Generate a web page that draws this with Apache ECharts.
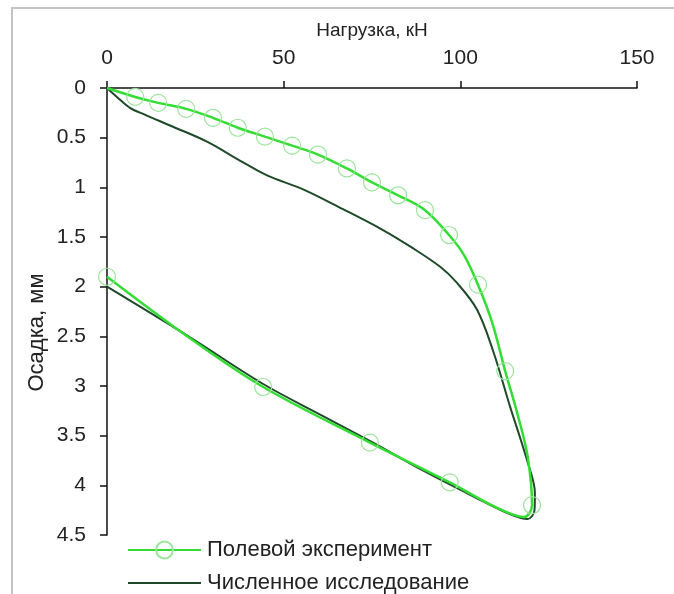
<!DOCTYPE html>
<html>
<head>
<meta charset="utf-8">
<script src="https://cdn.jsdelivr.net/npm/echarts@6/dist/echarts.min.js"></script>
<style>
  html, body { margin: 0; padding: 0; background: #fff; }
  #chart { width: 674px; height: 594px; }
</style>
</head>
<body>
<div id="chart"></div>
<script>
// Полевой эксперимент: точки кривой (нагрузка, кН; осадка, мм)
const fieldPoints = [
  [0, 0], [8, 0.09], [14.5, 0.15], [22.4, 0.21], [30, 0.30], [37, 0.40],
  [44.7, 0.49], [52.4, 0.58], [59.7, 0.67], [67.9, 0.81], [75, 0.95],
  [82.4, 1.08], [90, 1.23], [96.8, 1.48], [101, 1.68], [105, 1.98],
  [109, 2.36], [112.7, 2.85], [116, 3.26], [119, 3.7], [120.3, 4.2],
  [118, 4.32], [110, 4.22], [97, 3.97], [74.4, 3.57], [44.2, 3.01],
  [23.5, 2.52], [0, 1.9]
]
// which of the points above are measured (drawn with a circle)
const fieldMeasured = [
  0, 1, 1, 1, 1, 1,
  1, 1, 1, 1, 1,
  1, 1, 1, 0, 1,
  0, 1, 0, 0, 1,
  0, 0, 1, 1, 1,
  0, 1
]
// Численное исследование
const numericPoints = [
  [0, 0], [2.8, 0.09], [6.5, 0.20], [10.8, 0.27], [18.7, 0.39], [28.3, 0.54],
  [37.6, 0.73], [45.3, 0.88], [55.5, 1.02], [66.8, 1.22], [78.1, 1.43],
  [86, 1.6], [94.3, 1.80], [99, 1.96], [104.7, 2.23], [109.3, 2.65],
  [114.1, 3.21], [118.9, 3.75], [121.1, 4.08], [121, 4.25], [119, 4.34],
  [114, 4.29], [103.6, 4.11], [89.4, 3.85], [75.3, 3.57], [61, 3.3],
  [44.2, 2.98], [23.5, 2.51], [0, 2.0]
]
const seriesNames = ['Полевой эксперимент', 'Численное исследование']
const xTicks = [0, 50, 100, 150]
const yTicks = [0, 0.5, 1, 1.5, 2, 2.5, 3, 3.5, 4, 4.5]

const font = 'Liberation Sans, Arial, sans-serif'
const chart = echarts.init(document.getElementById('chart'))

const legendBase = {
  left: 127,
  padding: 0,
  itemWidth: 73,
  itemHeight: 21,
  textStyle: { fontFamily: font, fontSize: 22, color: '#222', padding: [0, 0, 0, 1] }
}

chart.setOption({
  animation: false,
  graphic: [{
    type: 'rect',
    shape: { x: 12, y: 8, width: 700, height: 700 },
    style: { fill: 'none', stroke: '#c4c4c4', lineWidth: 2 }
  }],
  grid: { left: 107, top: 88, width: 530, height: 447, outerBoundsMode: 'none' },
  legend: [
    Object.assign({}, legendBase, { top: 539, data: [seriesNames[0]] }),
    Object.assign({}, legendBase, {
      top: 572,
      data: [{ name: seriesNames[1], itemStyle: { color: 'rgba(0,0,0,0)', borderWidth: 0, opacity: 0 } }]
    })
  ],
  xAxis: {
    type: 'value',
    position: 'top',
    min: xTicks[0],
    max: xTicks[xTicks.length - 1],
    interval: 50,
    name: 'Нагрузка, кН',
    nameLocation: 'middle',
    nameGap: 48,
    nameMoveOverlap: false,
    nameTextStyle: { fontFamily: font, fontSize: 19, color: '#222' },
    axisLine: { lineStyle: { color: '#111', width: 1.5 } },
    axisTick: { length: 7, lineStyle: { color: '#111', width: 1.5 } },
    axisLabel: { margin: 19, fontFamily: font, fontSize: 21, color: '#222' },
    splitLine: { show: false }
  },
  yAxis: {
    type: 'value',
    inverse: true,
    min: yTicks[0],
    max: yTicks[yTicks.length - 1],
    interval: 0.5,
    name: 'Осадка, мм',
    nameLocation: 'middle',
    nameGap: 59,
    nameMoveOverlap: false,
    nameTextStyle: { fontFamily: font, fontSize: 22, color: '#222', padding: [0, 42, 0, 0] },
    axisLine: { onZero: false, lineStyle: { color: '#111', width: 1.5 } },
    axisTick: { length: 7, lineStyle: { color: '#111', width: 1.5 } },
    axisLabel: { margin: 21, fontFamily: font, fontSize: 21, color: '#222' },
    splitLine: { show: false }
  },
  series: [
    {
      name: seriesNames[1],
      type: 'line',
      smooth: 0.35,
      symbol: 'none',
      data: numericPoints,
      lineStyle: { color: '#1f4a2a', width: 2 },
      itemStyle: { color: '#1f4a2a' },
      z: 2
    },
    {
      name: seriesNames[0],
      type: 'line',
      smooth: 0.35,
      symbol: 'circle',
      symbolSize: 17,
      data: fieldPoints.map((p, i) => fieldMeasured[i]
        ? { value: p }
        : { value: p, symbol: 'none' }),
      lineStyle: { color: '#33dd33', width: 2.5 },
      itemStyle: { color: 'rgba(255,255,255,0)', borderColor: '#9be49b', borderWidth: 1.2 },
      z: 3
    }
  ]
})
</script>
</body>
</html>
